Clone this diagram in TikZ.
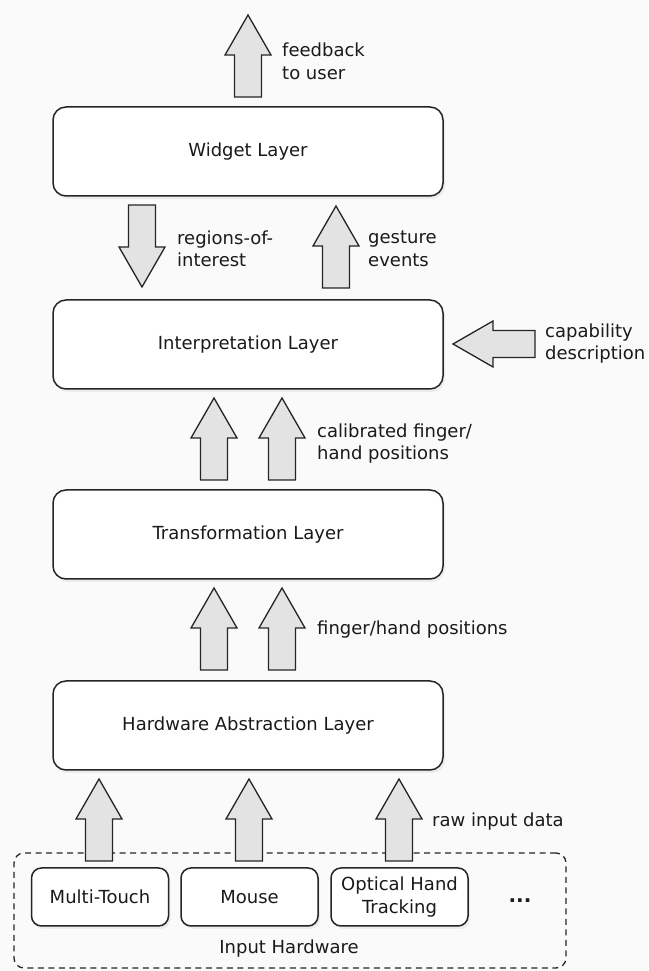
\documentclass[tikz,border=0pt]{standalone}
\usepackage{fontspec}
\setmainfont{DejaVu Sans}
\usetikzlibrary{shadows}
\definecolor{arrfill}{HTML}{E3E3E3}
\definecolor{edge}{HTML}{252525}
\definecolor{txt}{HTML}{1A1A1A}
\definecolor{bg}{HTML}{FAFAFA}
\begin{document}
\begin{tikzpicture}[x=1pt,y=1pt,
  txtfont/.style={font=\fontsize{18}{22.5}\selectfont, text=txt},
  layer/.style={draw=edge, line width=1.5pt, rounded corners=13pt, fill=white,
    minimum width=390pt, minimum height=89pt, txtfont,
    drop shadow={shadow xshift=2pt, shadow yshift=-3pt, fill=black!12}},
  hwbox/.style={draw=edge, line width=1.5pt, rounded corners=10pt, fill=white,
    minimum width=137pt, minimum height=58pt, align=center, txtfont, inner sep=2pt,
    drop shadow={shadow xshift=2pt, shadow yshift=-3pt, fill=black!12}},
  lbl/.style={anchor=west, align=left, inner sep=0pt, txtfont},
  blk/.style={draw=edge, fill=arrfill, line width=1.3pt, line join=miter},
  blockarrow/.pic={\draw[blk] (0,0) -- (-23,-40) -- (-13.5,-40) -- (-13.5,-82)
      -- (13.5,-82) -- (13.5,-40) -- (23,-40) -- cycle;}]
\fill[bg] (0,0) rectangle (648,971);
\useasboundingbox (0,0) rectangle (648,971);

% layers
\node[layer] (widget) at (248,819.5) {Widget Layer};
\node[layer] (interp) at (248,626.5) {Interpretation Layer};
\node[layer] (trans)  at (248,436.5) {Transformation Layer};
\node[layer] (hal)    at (248,245.5) {Hardware Abstraction Layer};

% input hardware
\node[draw=edge, line width=1.3pt, dash pattern=on 6pt off 4.5pt, rounded corners=10pt,
  minimum width=552pt, minimum height=115pt, inner sep=0pt] (inhw) at (290,60.5) {};
\node[hwbox] (mt)  at (100,74)   {Multi-Touch};
\node[hwbox] (ms)  at (249.5,74) {Mouse};
\node[hwbox] (oht) at (399.5,74) {Optical Hand\\Tracking};
\node[txtfont, font=\fontsize{20}{22}\bfseries] (dots) at (520,70) {...};
\node[txtfont] (inlbl) at (289,22) {Input Hardware};

% block arrows
\pic (fb)  at (248,956) {blockarrow};
\pic[rotate=180] (roi) at (142,684) {blockarrow};
\pic (ge)  at (336,765) {blockarrow};
\pic[rotate=90] (cap) at (453,627) {blockarrow};
\pic (c1)  at (214,573) {blockarrow};
\pic (c2)  at (282,573) {blockarrow};
\pic (f1)  at (214,383) {blockarrow};
\pic (f2)  at (282,383) {blockarrow};
\pic (r1)  at (99,192)  {blockarrow};
\pic (r2)  at (249,192) {blockarrow};
\pic (r3)  at (399,192) {blockarrow};

% labels
\node[lbl] (lfb)  at (282,909.5) {feedback\\to user};
\node[lbl] (lroi) at (177,722)   {regions-of-\\interest};
\node[lbl] (lge)  at (368,722)   {gesture\\events};
\node[lbl] (lcap) at (545,627.5) {capability\\description};
\node[lbl] (lcal) at (317,527.5) {calibrated finger/\\hand positions};
\node[lbl] (lfh)  at (317,341)   {finger/hand positions};
\node[lbl] (lraw) at (432,149)   {raw input data};
\end{tikzpicture}
\end{document}
